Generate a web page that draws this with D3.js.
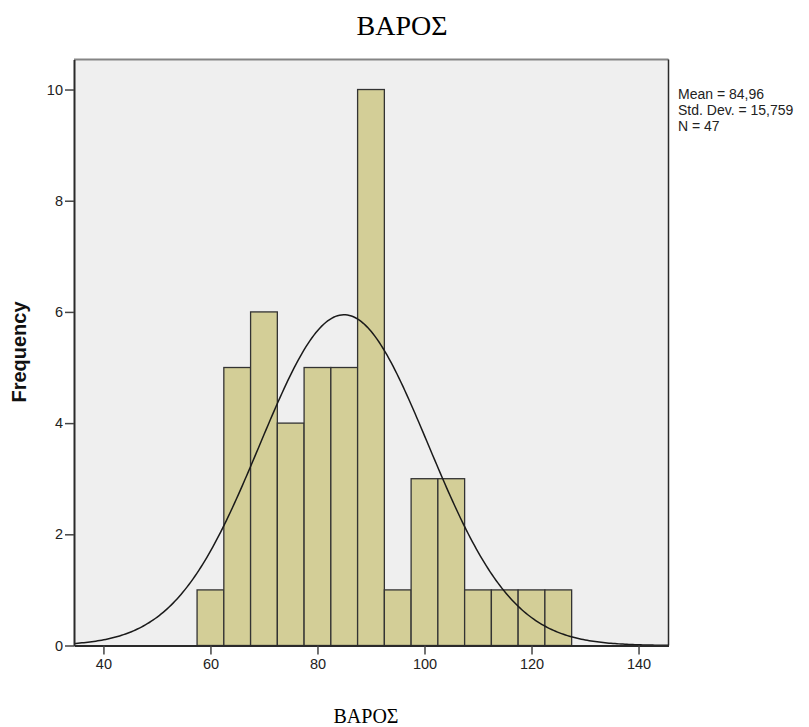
<!DOCTYPE html>
<html>
<head>
<meta charset="utf-8">
<script src="https://cdn.jsdelivr.net/npm/d3@7"></script>
<style>
  html, body { margin: 0; padding: 0; background: #ffffff; }
  svg { display: block; }
</style>
</head>
<body>
<div id="chart"></div>
<script>
// Histogram of ΒΑΡΟΣ (weight) with a fitted normal curve
const binStarts = [57.5, 62.5, 67.5, 72.5, 77.5, 82.5, 87.5, 92.5, 97.5, 102.5, 107.5, 112.5, 117.5, 122.5];
const frequencies = [1, 5, 6, 4, 5, 5, 10, 1, 3, 3, 1, 1, 1, 1];
const binWidth = 5;
const xTicks = [40, 60, 80, 100, 120, 140];
const yTicks = [0, 2, 4, 6, 8, 10];
const statMean = 84.96;
const statSD = 15.759;
const statN = 47;
const statLines = ["Mean = 84,96", "Std. Dev. = 15,759", "N = 47"];

const width = 809, height = 727;
const plot = { left: 74, right: 668.5, top: 59.5, bottom: 645.5 };

const svg = d3.select("#chart").append("svg")
  .attr("width", width).attr("height", height);

const x = d3.scaleLinear().domain([34.5, 145.6]).range([plot.left, plot.right]);
const y = d3.scaleLinear().domain([0, 10.54]).range([plot.bottom, plot.top]);

// plot background
svg.append("rect")
  .attr("x", plot.left).attr("y", plot.top)
  .attr("width", plot.right - plot.left).attr("height", plot.bottom - plot.top)
  .attr("fill", "#efefef");

// top border (grey) and right border (dark)
svg.append("line")
  .attr("x1", plot.left).attr("x2", plot.right)
  .attr("y1", plot.top).attr("y2", plot.top)
  .attr("stroke", "#858585").attr("stroke-width", 2);
svg.append("line")
  .attr("x1", plot.right).attr("x2", plot.right)
  .attr("y1", plot.top).attr("y2", plot.bottom)
  .attr("stroke", "#2a2a2a").attr("stroke-width", 1.5);

// bars
const bars = binStarts.map((b, i) => ({ x0: b, x1: b + binWidth, f: frequencies[i] }));
svg.append("g").selectAll("rect").data(bars).join("rect")
  .attr("x", d => x(d.x0))
  .attr("y", d => y(d.f))
  .attr("width", d => x(d.x1) - x(d.x0))
  .attr("height", d => y(0) - y(d.f))
  .attr("fill", "#d3ce97")
  .attr("stroke", "#333333")
  .attr("stroke-width", 1.3);

// fitted normal curve scaled to counts: N * binWidth * pdf
const pdf = v => Math.exp(-0.5 * Math.pow((v - statMean) / statSD, 2)) / (statSD * Math.sqrt(2 * Math.PI));
const [d0, d1] = x.domain();
const curvePts = d3.range(0, 301).map(i => {
  const v = d0 + (d1 - d0) * i / 300;
  return [v, statN * binWidth * pdf(v)];
});
svg.append("path")
  .datum(curvePts)
  .attr("fill", "none")
  .attr("stroke", "#1a1a1a")
  .attr("stroke-width", 1.5)
  .attr("d", d3.line().x(d => x(d[0])).y(d => y(d[1])));

// axes
const xAxis = d3.axisBottom(x).tickValues(xTicks).tickSize(9).tickPadding(4).tickSizeOuter(0);
const gx = svg.append("g").attr("transform", `translate(0,${plot.bottom})`).call(xAxis);
gx.select(".domain").attr("stroke", "#2a2a2a").attr("stroke-width", 2);
gx.selectAll(".tick line").attr("stroke", "#444").attr("stroke-width", 1.5);
gx.selectAll(".tick text").attr("font-family", "Arial, 'Liberation Sans', sans-serif")
  .attr("font-size", 14.5).attr("fill", "#222");

const yAxis = d3.axisLeft(y).tickValues(yTicks).tickSize(9).tickPadding(2).tickSizeOuter(0);
const gy = svg.append("g").attr("transform", `translate(${plot.left},0)`).call(yAxis);
gy.select(".domain").attr("stroke", "#2a2a2a").attr("stroke-width", 2);
gy.selectAll(".tick line").attr("stroke", "#444").attr("stroke-width", 1.5);
gy.selectAll(".tick text").attr("font-family", "Arial, 'Liberation Sans', sans-serif")
  .attr("font-size", 14.5).attr("fill", "#222");

// y axis title
svg.append("text")
  .attr("transform", `translate(26,${352}) rotate(-90)`)
  .attr("text-anchor", "middle")
  .attr("font-family", "Arial, 'Liberation Sans', sans-serif")
  .attr("font-weight", "bold")
  .attr("font-size", 20)
  .attr("fill", "#111")
  .text("Frequency");

// chart title and x axis title
svg.append("text")
  .attr("x", 402).attr("y", 35)
  .attr("text-anchor", "middle")
  .attr("font-family", "'Times New Roman', 'Liberation Serif', serif")
  .attr("font-size", 28)
  .attr("fill", "#000")
  .text("ΒΑΡΟΣ");
svg.append("text")
  .attr("x", 366).attr("y", 723)
  .attr("text-anchor", "middle")
  .attr("font-family", "'Times New Roman', 'Liberation Serif', serif")
  .attr("font-size", 20)
  .attr("fill", "#000")
  .text("ΒΑΡΟΣ");

// summary statistics
svg.append("g").selectAll("text").data(statLines).join("text")
  .attr("x", 678)
  .attr("y", (d, i) => 99 + i * 16)
  .attr("font-family", "Arial, 'Liberation Sans', sans-serif")
  .attr("font-size", 14)
  .attr("fill", "#222")
  .text(d => d);
</script>
</body>
</html>
